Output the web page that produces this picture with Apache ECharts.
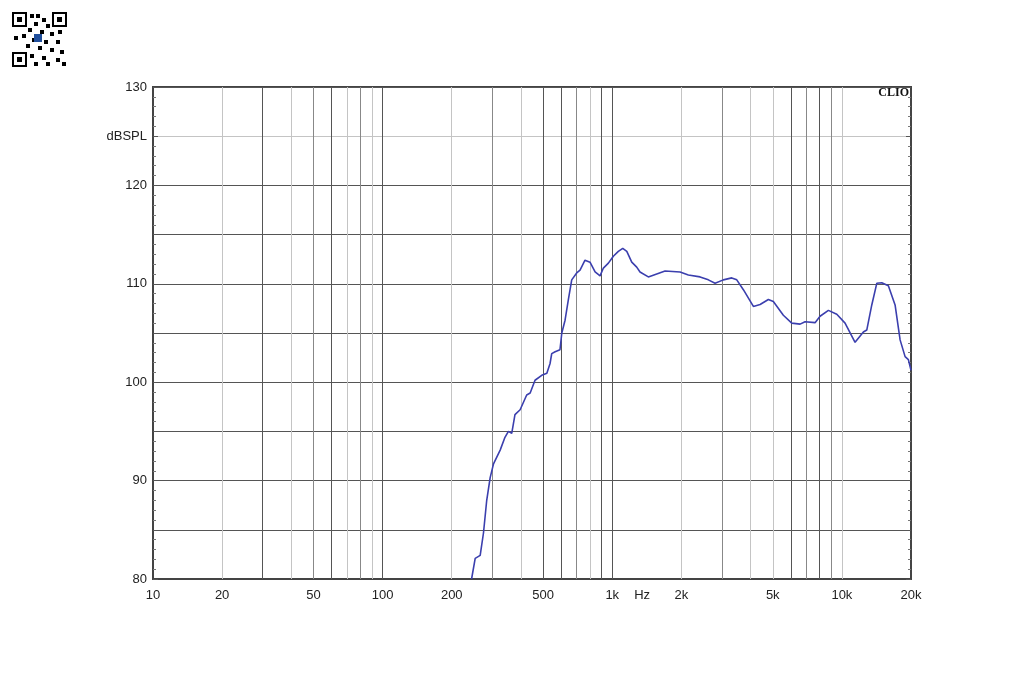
<!DOCTYPE html>
<html>
<head>
<meta charset="utf-8">
<script src="https://cdn.jsdelivr.net/npm/echarts@6/dist/echarts.min.js"></script>
<style>
html,body{margin:0;padding:0;background:#fff;}
#chart{width:1020px;height:680px;}
</style>
</head>
<body>
<div id="chart"></div>
<script>
// ---- data ----
var freqHz = [244, 253, 266, 275, 284, 294, 304, 325, 341, 353, 365, 377, 397, 424, 439, 461, 493, 519, 536, 545, 564, 592, 603, 623, 644, 666, 700, 724, 761, 800, 842, 885, 915, 962, 1011, 1063, 1111, 1157, 1216, 1278, 1321, 1436, 1562, 1698, 1974, 2145, 2412, 2621, 2804, 3047, 3315, 3485, 3724, 4117, 4404, 4785, 5030, 5561, 6050, 6576, 6914, 7643, 8035, 8735, 9502, 10325, 11415, 12405, 12835, 13497, 14190, 14920, 15940, 17050, 17930, 18850, 19480, 20000];
var splDb = [80.0, 82.1, 82.4, 84.7, 88.0, 90.3, 91.7, 93.1, 94.4, 95.0, 94.8, 96.7, 97.2, 98.7, 98.9, 100.2, 100.7, 100.9, 101.9, 102.9, 103.1, 103.3, 105.0, 106.3, 108.4, 110.4, 111.1, 111.4, 112.4, 112.2, 111.2, 110.8, 111.6, 112.1, 112.8, 113.3, 113.6, 113.3, 112.2, 111.7, 111.2, 110.7, 111.0, 111.3, 111.2, 110.9, 110.7, 110.4, 110.05, 110.4, 110.6, 110.4, 109.4, 107.7, 107.9, 108.4, 108.2, 106.8, 106.0, 105.9, 106.15, 106.05, 106.7, 107.3, 106.9, 106.0, 104.05, 105.1, 105.3, 107.85, 110.05, 110.1, 109.8, 107.85, 104.3, 102.6, 102.3, 101.2];
var gridFreqs = [20, 30, 40, 50, 60, 70, 80, 90, 100, 200, 300, 400, 500, 600, 700, 800, 900, 1000, 2000, 3000, 4000, 5000, 6000, 7000, 8000, 9000, 10000];
var xTickValues = [10, 20, 50, 100, 200, 500, 1000, 2000, 5000, 10000, 20000];
var xTickLabels = ['10', '20', '50', '100', '200', '500', '1k', '2k', '5k', '10k', '20k'];
var unitLabelFreq = 1350;
var unitLabel = 'Hz';
var yMin = 80, yMax = 130, yStep = 5;
var yUnitValue = 125;
var yUnitLabel = 'dBSPL';
var brandText = 'CLIO';

// ---- styles ----
var shade = {dark: '#555', mid: '#888', light: '#c4c4c4'};
var gridShadeByFreq = {
  20: 'light', 30: 'dark', 40: 'light', 50: 'mid', 60: 'dark', 70: 'light', 80: 'mid', 90: 'light', 100: 'dark',
  200: 'light', 300: 'mid', 400: 'light', 500: 'dark', 600: 'dark', 700: 'mid', 800: 'light', 900: 'dark', 1000: 'dark',
  2000: 'light', 3000: 'mid', 4000: 'light', 5000: 'light', 6000: 'dark', 7000: 'mid', 8000: 'dark', 9000: 'mid', 10000: 'light'
};
var FONT = '"Liberation Sans", Arial, sans-serif';

var curve = freqHz.map(function (f, i) { return [f, splDb[i]]; });

var hSplitColors = [];
for (var v = yMin; v <= yMax; v += yStep) {
  hSplitColors.push(v === yUnitValue ? shade.light : shade.dark);
}

var chart = echarts.init(document.getElementById('chart'), null, {renderer: 'canvas'});

var yAxisBase = {
  type: 'value', min: yMin, max: yMax, interval: yStep,
  axisLine: {show: true, lineStyle: {color: '#444', width: 2}},
  axisTick: {show: true, inside: true, length: 5, lineStyle: {color: '#555'}},
  minorTick: {show: true, splitNumber: 5, length: 3, lineStyle: {color: '#777'}}
};

chart.setOption({
  animation: false,
  backgroundColor: '#fff',
  grid: {left: 153, right: 109, top: 87, bottom: 101, show: true, borderColor: '#444', borderWidth: 2, backgroundColor: 'transparent'},
  xAxis: {
    type: 'log', logBase: 10, min: 10, max: 20000,
    axisLine: {show: true, onZero: false, lineStyle: {color: '#444', width: 2}},
    axisTick: {show: false}, axisLabel: {show: false},
    splitLine: {show: false}, minorTick: {show: false}, minorSplitLine: {show: false}
  },
  yAxis: [
    Object.assign({}, yAxisBase, {
      position: 'left',
      axisLabel: {
        color: '#222', fontFamily: FONT, fontSize: 13, margin: 6,
        formatter: function (val) {
          if (val === yUnitValue) return yUnitLabel;
          return (val % 10 === 0) ? String(val) : '';
        }
      },
      splitLine: {show: true, lineStyle: {color: hSplitColors, width: 1}}
    }),
    Object.assign({}, yAxisBase, {
      position: 'right',
      axisLabel: {show: false},
      splitLine: {show: false}
    })
  ],
  series: [
    {
      type: 'line', z: 1, silent: true,
      data: [[10, yMin]], showSymbol: false, lineStyle: {opacity: 0},
      markLine: {
        silent: true, symbol: ['none', 'none'], animation: false,
        label: {show: false},
        data: gridFreqs.map(function (f) {
          return {xAxis: f, lineStyle: {color: shade[gridShadeByFreq[f]], width: 1, type: 'solid'}};
        })
      }
    },
    {
      type: 'line', z: 5, data: curve, showSymbol: false, smooth: false,
      lineStyle: {color: '#3b3fae', width: 1.6}
    }
  ]
});

// x tick labels placed through the axis scale
var graphics = [];
xTickValues.forEach(function (f, i) {
  var p = chart.convertToPixel({xAxisIndex: 0, yAxisIndex: 0}, [f, yMin]);
  graphics.push({type: 'text', x: p[0], y: p[1] + 16, style: {text: xTickLabels[i], fill: '#222', font: '13px ' + FONT, align: 'center', verticalAlign: 'middle'}});
});
var hz = chart.convertToPixel({xAxisIndex: 0, yAxisIndex: 0}, [unitLabelFreq, yMin]);
graphics.push({type: 'text', x: hz[0], y: hz[1] + 16, style: {text: unitLabel, fill: '#222', font: '13px ' + FONT, align: 'center', verticalAlign: 'middle'}});
var tr = chart.convertToPixel({xAxisIndex: 0, yAxisIndex: 0}, [20000, yMax]);
graphics.push({type: 'text', x: tr[0] - 2, y: tr[1] + 6, style: {text: brandText, fill: '#111', font: 'bold 12px "Liberation Serif", "DejaVu Serif", serif', align: 'right', verticalAlign: 'middle'}});

// QR-like corner mark
function finder(x, y) {
  graphics.push({type: 'rect', shape: {x: x, y: y, width: 13, height: 13}, style: {fill: 'none', stroke: '#000', lineWidth: 2}});
  graphics.push({type: 'rect', shape: {x: x + 4, y: y + 4, width: 5, height: 5}, style: {fill: '#000'}});
}
finder(13, 13); finder(53, 13); finder(13, 53);
var qrDots = [[30,14],[36,14],[42,18],[34,22],[46,24],[28,28],[40,30],[50,32],[58,30],[22,34],[14,36],[32,38],[44,40],[56,40],[26,44],[38,46],[50,48],[60,50],[30,54],[42,56],[56,58],[34,62],[46,62],[62,62]];
qrDots.forEach(function (d) {
  graphics.push({type: 'rect', shape: {x: d[0], y: d[1], width: 4, height: 4}, style: {fill: '#000'}});
});
graphics.push({type: 'rect', shape: {x: 34, y: 34, width: 8, height: 8}, style: {fill: '#1f4e9c'}});

chart.setOption({graphic: graphics});
</script>
</body>
</html>
